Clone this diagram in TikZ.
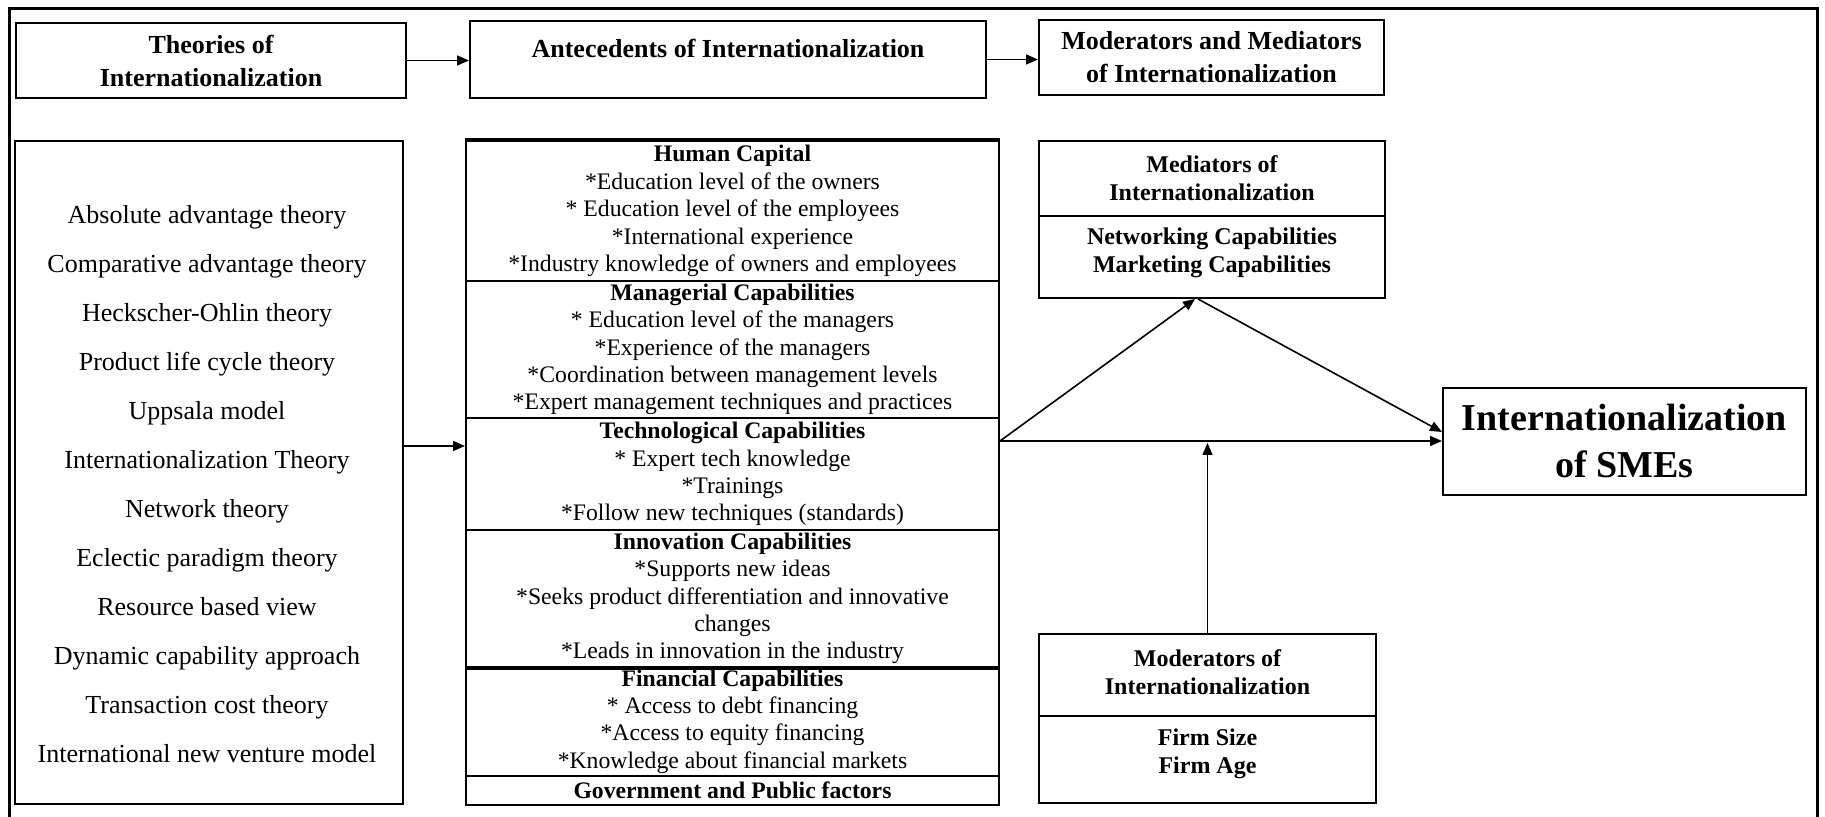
\documentclass[tikz,border=0pt]{standalone}
\usepackage{fontspec}
\setmainfont{Liberation Serif}
\usetikzlibrary{arrows.meta}
\begin{document}
\begin{tikzpicture}[x=0.5pt,y=-0.5pt,
  box/.style={draw, line width=1pt, inner sep=0pt, align=center},
  arr/.style={line width=0.8pt, -{Triangle[length=6pt,width=5pt]}},
  topfont/.style={font=\fontsize{13}{16.5}\selectfont\bfseries},
  sidefont/.style={font=\fontsize{12}{14}\selectfont\bfseries},
  listfont/.style={font=\fontsize{13}{24.5}\selectfont},
  capfont/.style={font=\fontsize{11.85}{13.68}\selectfont},
  thick rule/.style={line width=1.6pt}
]
\useasboundingbox (0,0) rectangle (1825,817);
% outer frame, open at the bottom
\draw[line width=1.5pt] (9,817) -- (9,9) -- (1817,9) -- (1817,817);

% header row
\node[box, topfont, minimum width=195pt, minimum height=37.5pt] (theo) at (211,60.5) {Theories of\\Internationalization};
\node[box, minimum width=258pt, minimum height=38.5pt] (ante) at (728,59.5) {};
\node[topfont] (antetxt) at (728,48) {Antecedents of Internationalization};
\node[box, topfont, minimum width=172.5pt, minimum height=37.5pt] (modmed) at (1211.5,57.5) {Moderators and Mediators\\of Internationalization};

% list of theories
\node[box, minimum width=194pt, minimum height=331.5pt] (list) at (209,472.5) {};
\node[listfont, align=center] (listtxt) at (207,484) {Absolute advantage theory\\Comparative advantage theory\\Heckscher-Ohlin theory\\Product life cycle theory\\Uppsala model\\Internationalization Theory\\Network theory\\Eclectic paradigm theory\\Resource based view\\Dynamic capability approach\\Transaction cost theory\\International new venture model};

% antecedents stack
\node[box, capfont, minimum width=266.5pt, minimum height=70pt] (hc) at (732.5,211) {\textbf{Human Capital}\\{*}Education level of the owners\\{*} Education level of the employees\\{*}International experience\\{*}Industry knowledge of owners and employees};
\node[box, capfont, minimum width=266.5pt, minimum height=68.5pt] (mc) at (732.5,349.5) {\textbf{Managerial Capabilities}\\{*} Education level of the managers\\{*}Experience of the managers\\{*}Coordination between management levels\\{*}Expert management techniques and practices};
\node[box, capfont, minimum width=266.5pt, minimum height=56pt] (tc) at (732.5,474) {\textbf{Technological Capabilities}\\{*} Expert tech knowledge\\{*}Trainings\\{*}Follow new techniques (standards)};
\node[box, capfont, minimum width=266.5pt, minimum height=68.5pt] (ic) at (732.5,598.5) {\textbf{Innovation Capabilities}\\{*}Supports new ideas\\{*}Seeks product differentiation and innovative\\changes\\{*}Leads in innovation in the industry};
\node[box, capfont, minimum width=266.5pt, minimum height=54.5pt] (fc) at (732.5,721.5) {\textbf{Financial Capabilities}\\{*} Access to debt financing\\{*}Access to equity financing\\{*}Knowledge about financial markets};
\node[box, capfont, minimum width=266.5pt, minimum height=14.5pt] (gp) at (732.5,790.5) {\textbf{Government and Public factors}};
\draw[thick rule] (hc.north west) -- (hc.north east);
\draw[thick rule] (ic.south west) -- (ic.south east);

% mediators
\node[box, sidefont, minimum width=173pt, minimum height=37.5pt] (medtop) at (1212,178.5) {Mediators of\\Internationalization};
\node[box, minimum width=173pt, minimum height=41pt] (medbot) at (1212,257) {};
\node[sidefont, align=center] (medtxt) at (1212,253) {Networking Capabilities\\Marketing Capabilities};

% moderators
\node[box, minimum width=168.5pt, minimum height=41pt] (modtop) at (1207.5,675) {};
\node[sidefont, align=center] (modhead) at (1207.5,672) {Moderators of\\Internationalization};
\node[box, minimum width=168.5pt, minimum height=43.5pt] (modbot) at (1207.5,759.5) {};
\node[sidefont, align=center] (modtxt) at (1207.5,754) {Firm Size\\Firm Age};

% outcome
\node[box, font=\fontsize{19}{23.5}\selectfont\bfseries, minimum width=181.5pt, minimum height=53.5pt] (sme) at (1624.5,441.5) {Internationalization\\of SMEs};

% connectors
\coordinate (lvl) at (0,446);
\coordinate (hlvl) at (0,441);
\coordinate (hub) at (tc.east |- hlvl);
\draw[arr] (theo.east) -- (theo.east -| ante.west);
\draw[arr] (ante.east) -- (ante.east -| modmed.west);
\draw[arr] (list.east |- lvl) -- (tc.west |- lvl);
\draw[arr] (hub) -- ([xshift=-8.5pt]medbot.south);
\draw[arr] ([xshift=-7pt]medbot.south) -- ([yshift=4.75pt]sme.west);
\draw[arr] (hub) -- (sme.west |- hub);
\draw[arr, shorten >=1pt] (modtop.north) -- (modtop.north |- hub);
\end{tikzpicture}
\end{document}
